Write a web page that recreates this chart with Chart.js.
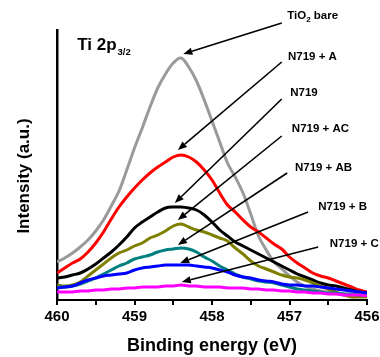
<!DOCTYPE html>
<html><head><meta charset="utf-8">
<script src="https://cdn.jsdelivr.net/npm/chart.js@4.4.0/dist/chart.umd.min.js"></script>
<style>html,body{margin:0;padding:0;background:#fff;}</style>
</head><body>
<canvas id="c" width="380" height="357"></canvas>
<script>
// ---- data (binding energy in eV, intensity in a.u.) ----
const energies = [460.0,459.9,459.8,459.7,459.6,459.5,459.4,459.3,459.2,459.1,459.0,458.9,458.8,458.7,458.6,458.5,458.4,458.3,458.2,458.1,458.0,457.9,457.8,457.7,457.6,457.5,457.4,457.3,457.2,457.1,457.0,456.9,456.8,456.7,456.6,456.5,456.4,456.3,456.2,456.1,456.0];
const tio2Bare = [38,42,47,53,60,69,80,94,109,130,152,172,193,212,226,237,242,233,219,200,179,158,137,123,107,86,64,50,38,31,24,18,14,11,9,8,7,6,5,5,4];
const n719A    = [27,32,37,41,48,57,68,81,93,103,112,120,127,133,138,143,145,143,138,130,120,107,95,88,80,73,68,62,56,51,43,37,32,27,24,22,19,16,13,10,8];
const n719     = [22,23,25,27,31,36,42,48,55,63,72,78,83,88,92,93,93,92,90,85,78,70,64,58,54,50,46,42,38,34,30,26,23,20,17,15,14,12,10,8,7];
const n719AC   = [15,14,15,18,24,30,36,42,47,50,54,57,62,65,69,74,76,73,70,68,65,62,59,52,46,39,34,31,28,25,23,22,20,17,14,11,8,5,3,3,3];
const n719AB   = [13,13,14,16,19,22,26,30,34,37,41,43,45,48,50,51,52,51,48,43,39,34,30,26,23,21,19,18,17,15,13,11,10,9,8,7,7,6,6,5,5];
const n719B    = [12,13,14,17,20,22,24,25,26,27,30,32,33,34,35,35,35,35,34,33,32,30,28,25,23,22,20,19,18,16,15,15,14,14,13,12,11,10,9,8,7];
const n719C    = [8,8,8,9,9,10,10,11,11,12,12,13,13,13,14,14,15,14,14,13,13,13,12,12,12,11,11,10,10,9,9,8,8,7,7,6,6,5,5,5,4];
const seriesNames = ['TiO2 bare','N719 + A','N719','N719 + AC','N719 + AB','N719 + B','N719 + C'];
const seriesValues = [tio2Bare, n719A, n719, n719AC, n719AB, n719B, n719C];
const xTickLabels = [460, 459, 458, 457, 456];
const xMin = 456, xMax = 460, yMin = 0, yMax = 270;

// annotation arrows: label text, tail (eV, a.u.), tip (eV, a.u.), label anchor (eV, a.u.)
const annLabels = ['TiO|2| bare','N719 + A','N719','N719 + AC','N719 + AB','N719 + B','N719 + C'];
const annTailE = [457.10,457.10,457.10,457.10,457.03,456.76,456.63];
const annTailI = [277,238,201,164,127,88,53];
const annTipE  = [458.37,458.44,458.48,458.44,458.44,458.41,458.39];
const annTipI  = [246,150,97,80,55,37,18];
const annTextE = [457.03,457.02,456.99,456.97,456.93,456.63,456.48];
const annTextI = [284,243,207,171,132,93,56];

// ---- styles ----
const colors = ['#9a9a9a','#ff0000','#000000','#808000','#008080','#0000ff','#ff00ff'];
const FONT = "'Liberation Sans', Arial, sans-serif";

const datasets = seriesValues.map((vals, i) => ({
  label: seriesNames[i],
  data: energies.map((e, k) => ({x: e, y: vals[k]})),
  borderColor: colors[i],
  borderWidth: 3,
  pointRadius: 0,
  tension: 0.35,
  fill: false,
  order: 6 - i
}));

function drawRich(ctx, text, x, y, size) {
  const parts = text.split('|');
  let cx = x;
  parts.forEach((p, i) => {
    const sub = i % 2 === 1;
    ctx.font = 'bold ' + (sub ? size * 0.7 : size) + 'px ' + FONT;
    ctx.fillText(p, cx, y + (sub ? size * 0.3 : 0));
    cx += ctx.measureText(p).width;
  });
}

function arrow(ctx, x1, y1, x2, y2) {
  const a = Math.atan2(y2 - y1, x2 - x1), L = 9, W = 3.6;
  const bx = x2 - L * Math.cos(a), by = y2 - L * Math.sin(a);
  ctx.beginPath(); ctx.moveTo(x1, y1); ctx.lineTo(bx, by); ctx.stroke();
  ctx.beginPath(); ctx.moveTo(x2, y2);
  ctx.lineTo(bx - W * Math.sin(a), by + W * Math.cos(a));
  ctx.lineTo(bx + W * Math.sin(a), by - W * Math.cos(a));
  ctx.closePath(); ctx.fill();
}

const annotate = {
  id: 'annotate',
  afterDraw(chart) {
    const ctx = chart.ctx, xs = chart.scales.x, ys = chart.scales.y;
    ctx.save();
    ctx.fillStyle = '#000'; ctx.strokeStyle = '#000'; ctx.lineWidth = 1.6;
    annLabels.forEach((t, i) => {
      arrow(ctx, xs.getPixelForValue(annTailE[i]), ys.getPixelForValue(annTailI[i]),
                 xs.getPixelForValue(annTipE[i]), ys.getPixelForValue(annTipI[i]));
      ctx.textAlign = 'left'; ctx.textBaseline = 'middle';
      drawRich(ctx, t, xs.getPixelForValue(annTextE[i]), ys.getPixelForValue(annTextI[i]), 11.5);
    });
    ctx.textBaseline = 'alphabetic';
    ctx.font = 'bold 17px ' + FONT;
    const tx = xs.getPixelForValue(459.74), ty = ys.getPixelForValue(250);
    ctx.fillText('Ti 2p', tx, ty);
    const w = ctx.measureText('Ti 2p').width;
    ctx.font = 'bold 9.5px ' + FONT;
    ctx.fillText('3/2', tx + w + 1, ty + 5);
    ctx.translate(24, (chart.chartArea.top + chart.chartArea.bottom) / 2 + 11);
    ctx.rotate(-Math.PI / 2);
    ctx.textAlign = 'center'; ctx.textBaseline = 'middle';
    ctx.font = 'bold 17px ' + FONT;
    ctx.fillText('Intensity (a.u.)', 0, 0);
    ctx.restore();
  }
};

new Chart(document.getElementById('c'), {
  type: 'line',
  data: { datasets },
  options: {
    responsive: false, animation: false, devicePixelRatio: 1,
    layout: { padding: { top: 30, left: 0, right: 0, bottom: 0 } },
    plugins: { legend: { display: false }, tooltip: { enabled: false } },
    scales: {
      x: {
        type: 'linear', min: xMin, max: xMax, reverse: true,
        grid: { display: true, drawOnChartArea: false, drawTicks: true, tickLength: 5, color: '#000', lineWidth: 2 },
        border: { display: true, color: '#000', width: 2 },
        ticks: {
          stepSize: 0.5, autoSkip: false, maxRotation: 0, padding: 3, color: '#000',
          font: { family: FONT, size: 15, weight: 'bold' },
          callback: v => xTickLabels.includes(v) ? String(v) : ''
        },
        title: { display: true, text: 'Binding energy (eV)', color: '#000', padding: 0,
                 font: { family: FONT, size: 18, weight: 'bold' } },
        afterFit: s => { s.height = 57; s.paddingLeft = 0; s.paddingRight = 13; }
      },
      y: {
        min: yMin, max: yMax,
        grid: { display: false },
        border: { display: true, color: '#000', width: 2.5 },
        ticks: { display: false },
        afterFit: s => { s.width = 57; }
      }
    }
  },
  plugins: [annotate]
});
</script>
</body></html>
